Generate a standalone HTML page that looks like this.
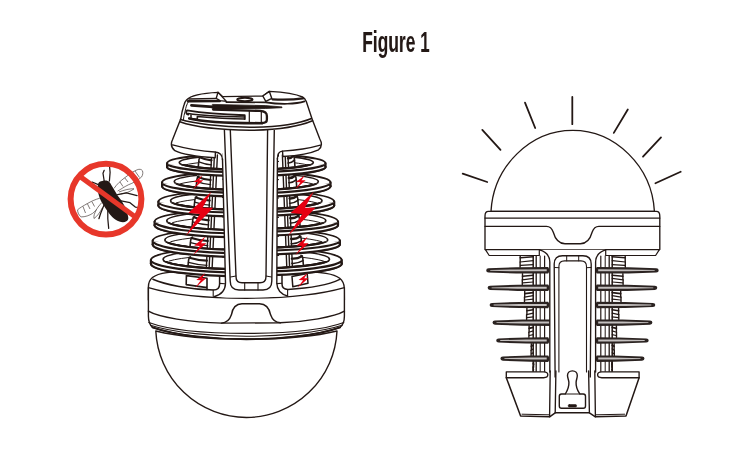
<!DOCTYPE html>
<html lang="en"><head><meta charset="utf-8"><title>Figure 1</title>
<style>
html,body{margin:0;padding:0;background:#fff;}
body{width:750px;height:450px;overflow:hidden;position:relative;}
.title{position:absolute;left:295.9px;top:25.5px;width:200px;text-align:center;font-family:'Liberation Sans',sans-serif;font-weight:bold;font-size:28.7px;color:#231815;white-space:nowrap;transform:scaleX(0.606);opacity:0.999;will-change:transform;transform-origin:50% 50%;}
svg{position:absolute;left:0;top:0;display:block;}
</style></head><body>
<svg width="750" height="450" viewBox="0 0 750 450">
<rect width="750" height="450" fill="#fff"/>

<g fill="#fff" stroke="#231815" stroke-width="1.4" stroke-linejoin="round" stroke-linecap="round">
<path d="M148.4,300 L148.4,287 C148.4,279 153,274.5 167,272.6 C200,268 292,268 326,273.4 C338.5,275.4 343.9,279.6 344.3,288 L344.4,300 Z"/>
<path d="M150.9,263.8 A95.4,12.6 0 0 0 246.3,276.4 L246.3,275.6 A95.4,11.8 0 0 0 341.7,263.8 A95.4,12.8 0 0 0 246.3,251.0 A95.4,12.8 0 0 0 150.9,263.8 Z" stroke-width="1.8"/>
<path d="M150.9,260.0 A95.4,12.6 0 0 0 246.3,272.6 L246.3,271.8 A95.4,11.8 0 0 0 341.7,260.0 A95.4,12.8 0 0 0 246.3,247.2 A95.4,12.8 0 0 0 150.9,260.0 Z" stroke-width="1.8"/>
<path d="M150.9,260.0 v3.8 M341.7,260.0 v3.8" stroke-width="2.2"/>
<path d="M163.1,259.2 A83.2,10.1 0 0 0 246.3,269.3 L246.3,268.6 A83.2,9.4 0 0 0 329.5,259.2 A83.2,10.2 0 0 0 246.3,249.0 A83.2,10.2 0 0 0 163.1,259.2 Z" stroke-width="1.7"/>
<path d="M169.2,261.0 A83.2,10.2 0 0 1 323.4,261.0" fill="none" stroke-width="1.0"/>
<path d="M152.7,244.5 A93.6,12.5 0 0 0 246.3,257.0 L246.3,254.8 A93.6,10.3 0 0 0 339.9,244.5 A93.6,12.6 0 0 0 246.3,231.9 A93.6,12.6 0 0 0 152.7,244.5 Z" stroke-width="1.8"/>
<path d="M152.7,240.7 A93.6,12.5 0 0 0 246.3,253.2 L246.3,251.0 A93.6,10.3 0 0 0 339.9,240.7 A93.6,12.6 0 0 0 246.3,228.1 A93.6,12.6 0 0 0 152.7,240.7 Z" stroke-width="1.8"/>
<path d="M152.7,240.7 v3.8 M339.9,240.7 v3.8" stroke-width="2.2"/>
<path d="M164.9,239.9 A81.4,10.0 0 0 0 246.3,249.9 L246.3,248.1 A81.4,8.2 0 0 0 327.7,239.9 A81.4,10.1 0 0 0 246.3,229.8 A81.4,10.1 0 0 0 164.9,239.9 Z" stroke-width="1.7"/>
<path d="M170.8,241.7 A81.4,10.1 0 0 1 321.8,241.7" fill="none" stroke-width="1.0"/>
<path d="M154.6,225.3 A91.7,12.0 0 0 0 246.3,237.3 L246.3,235.8 A91.7,10.5 0 0 0 338.0,225.3 A91.7,12.3 0 0 0 246.3,213.0 A91.7,12.3 0 0 0 154.6,225.3 Z" stroke-width="1.8"/>
<path d="M154.6,221.5 A91.7,12.0 0 0 0 246.3,233.5 L246.3,232.0 A91.7,10.5 0 0 0 338.0,221.5 A91.7,12.3 0 0 0 246.3,209.2 A91.7,12.3 0 0 0 154.6,221.5 Z" stroke-width="1.8"/>
<path d="M154.6,221.5 v3.8 M338.0,221.5 v3.8" stroke-width="2.2"/>
<path d="M166.8,220.7 A79.5,9.6 0 0 0 246.3,230.3 L246.3,229.1 A79.5,8.4 0 0 0 325.8,220.7 A79.5,9.8 0 0 0 246.3,210.9 A79.5,9.8 0 0 0 166.8,220.7 Z" stroke-width="1.7"/>
<path d="M172.6,222.6 A79.5,9.8 0 0 1 320.0,222.6" fill="none" stroke-width="1.0"/>
<path d="M158.4,205.4 A87.9,11.2 0 0 0 246.3,216.6 L246.3,216.0 A87.9,10.6 0 0 0 334.2,205.4 A87.9,11.7 0 0 0 246.3,193.7 A87.9,11.7 0 0 0 158.4,205.4 Z" stroke-width="1.8"/>
<path d="M158.4,201.6 A87.9,11.2 0 0 0 246.3,212.8 L246.3,212.2 A87.9,10.6 0 0 0 334.2,201.6 A87.9,11.7 0 0 0 246.3,189.9 A87.9,11.7 0 0 0 158.4,201.6 Z" stroke-width="1.8"/>
<path d="M158.4,201.6 v3.8 M334.2,201.6 v3.8" stroke-width="2.2"/>
<path d="M170.6,200.8 A75.7,9.0 0 0 0 246.3,209.8 L246.3,209.3 A75.7,8.5 0 0 0 322.0,200.8 A75.7,9.4 0 0 0 246.3,191.4 A75.7,9.4 0 0 0 170.6,200.8 Z" stroke-width="1.7"/>
<path d="M176.1,202.9 A75.7,9.4 0 0 1 316.5,202.9" fill="none" stroke-width="1.0"/>
<path d="M162.1,186.2 A84.2,10.5 0 0 0 246.3,196.7 L246.3,197.0 A84.2,10.8 0 0 0 330.5,186.2 A84.2,10.8 0 0 0 246.3,175.4 A84.2,10.8 0 0 0 162.1,186.2 Z" stroke-width="1.8"/>
<path d="M162.1,182.4 A84.2,10.5 0 0 0 246.3,192.9 L246.3,193.2 A84.2,10.8 0 0 0 330.5,182.4 A84.2,10.8 0 0 0 246.3,171.6 A84.2,10.8 0 0 0 162.1,182.4 Z" stroke-width="1.8"/>
<path d="M162.1,182.4 v3.8 M330.5,182.4 v3.8" stroke-width="2.2"/>
<path d="M174.3,181.6 A72.0,8.4 0 0 0 246.3,190.0 L246.3,190.2 A72.0,8.6 0 0 0 318.3,181.6 A72.0,8.6 0 0 0 246.3,173.0 A72.0,8.6 0 0 0 174.3,181.6 Z" stroke-width="1.7"/>
<path d="M179.5,184.0 A72.0,8.6 0 0 1 313.1,184.0" fill="none" stroke-width="1.0"/>
<path d="M167.1,167.1 A79.2,9.0 0 0 0 246.3,176.1 L246.3,176.1 A79.2,9.0 0 0 0 325.5,167.1 A79.2,9.6 0 0 0 246.3,157.5 A79.2,9.6 0 0 0 167.1,167.1 Z" stroke-width="1.8"/>
<path d="M167.1,163.3 A79.2,9.0 0 0 0 246.3,172.3 L246.3,172.3 A79.2,9.0 0 0 0 325.5,163.3 A79.2,9.6 0 0 0 246.3,153.7 A79.2,9.6 0 0 0 167.1,163.3 Z" stroke-width="1.8"/>
<path d="M167.1,163.3 v3.8 M325.5,163.3 v3.8" stroke-width="2.2"/>
<path d="M179.3,162.5 A67.0,7.2 0 0 0 246.3,169.7 L246.3,169.7 A67.0,7.2 0 0 0 313.3,162.5 A67.0,7.7 0 0 0 246.3,154.8 A67.0,7.7 0 0 0 179.3,162.5 Z" stroke-width="1.7"/>
<path d="M184.2,165.2 A67.0,7.7 0 0 1 308.4,165.2" fill="none" stroke-width="1.0"/>
<path d="M199.8,152 L185.5,290 L222,290 L222,152 Z" stroke="none"/>
<path d="M293.7,152 L305.5,290 L279,290 L279,152 Z" stroke="none"/>
<g fill="none" stroke-width="1.2">
<path d="M211.6,155 L205.4,288" stroke-width="1.4"/>
<path d="M214.4,155 L208.2,288" stroke-width="1.4"/>
<path d="M217.4,155 L211.2,288" stroke-width="1.4"/>
<path d="M282.4,155 L287.6,288" stroke-width="1.4"/>
<path d="M285.2,155 L290.4,288" stroke-width="1.4"/>
<path d="M288.0,155 L293.2,288" stroke-width="1.4"/>
<path d="M200.8,156.5 Q199.3,157.5 199.0,159.5 L198.2,167.5" stroke-width="1.6"/>
<path d="M199.8,157.3 Q205.4,159.9 211.5,160.3" stroke-width="2.2"/>
<path d="M198.8,161.9 Q205.4,164.5 211.5,164.9" stroke-width="1.3"/>
<path d="M292.5,155.0 Q294.0,156.0 294.3,158.0 L294.9,166.0" stroke-width="1.6"/>
<path d="M293.5,155.8 Q291.0,158.6 288.0,158.2" stroke-width="2.4"/>
<path d="M294.5,160.2 Q291.0,163.4 288.0,163.0" stroke-width="1.6"/>
<path d="M198.8,176.2 Q197.3,177.2 197.0,179.2 L196.0,188.2" stroke-width="1.6"/>
<path d="M197.8,177.0 Q204.0,179.6 210.6,180.0" stroke-width="2.2"/>
<path d="M196.8,181.6 Q204.0,184.2 210.6,184.6" stroke-width="1.3"/>
<path d="M294.2,174.7 Q295.7,175.7 296.0,177.7 L296.7,186.7" stroke-width="1.6"/>
<path d="M295.2,175.5 Q292.2,178.3 288.8,177.9" stroke-width="2.4"/>
<path d="M296.2,179.9 Q292.2,183.1 288.8,182.7" stroke-width="1.6"/>
<path d="M196.7,196.7 Q195.2,197.7 194.9,199.7 L194.0,207.8" stroke-width="1.6"/>
<path d="M195.7,197.5 Q202.4,200.1 209.7,200.5" stroke-width="2.2"/>
<path d="M194.7,202.1 Q202.4,204.7 209.7,205.1" stroke-width="1.3"/>
<path d="M295.9,195.2 Q297.4,196.2 297.7,198.2 L298.4,206.3" stroke-width="1.6"/>
<path d="M296.9,196.0 Q293.5,198.8 289.6,198.4" stroke-width="2.4"/>
<path d="M297.9,200.4 Q293.5,203.6 289.6,203.2" stroke-width="1.6"/>
<path d="M194.6,216.5 Q193.1,217.5 192.8,219.5 L191.9,228.1" stroke-width="1.6"/>
<path d="M193.6,217.3 Q200.9,219.9 208.7,220.3" stroke-width="2.2"/>
<path d="M192.6,221.9 Q200.9,224.5 208.7,224.9" stroke-width="1.3"/>
<path d="M297.6,215.0 Q299.1,216.0 299.4,218.0 L300.1,226.6" stroke-width="1.6"/>
<path d="M298.6,215.8 Q294.7,218.6 290.3,218.2" stroke-width="2.4"/>
<path d="M299.6,220.2 Q294.7,223.4 290.3,223.0" stroke-width="1.6"/>
<path d="M192.5,237.2 Q191.0,238.2 190.7,240.2 L189.9,247.6" stroke-width="1.6"/>
<path d="M191.5,238.0 Q199.4,240.6 207.8,241.0" stroke-width="2.2"/>
<path d="M190.5,242.6 Q199.4,245.2 207.8,245.6" stroke-width="1.3"/>
<path d="M299.4,235.7 Q300.9,236.7 301.2,238.7 L301.7,246.1" stroke-width="1.6"/>
<path d="M300.4,236.5 Q296.0,239.3 291.2,238.9" stroke-width="2.4"/>
<path d="M301.4,240.9 Q296.0,244.1 291.2,243.7" stroke-width="1.6"/>
<path d="M190.4,256.9 Q188.9,257.9 188.6,259.9 L187.9,266.9" stroke-width="1.6"/>
<path d="M189.4,257.7 Q197.9,260.3 206.9,260.7" stroke-width="2.2"/>
<path d="M188.4,262.3 Q197.9,264.9 206.9,265.3" stroke-width="1.3"/>
<path d="M301.0,255.4 Q302.5,256.4 302.8,258.4 L303.4,265.4" stroke-width="1.6"/>
<path d="M302.0,256.2 Q297.2,259.0 291.9,258.6" stroke-width="2.4"/>
<path d="M303.0,260.6 Q297.2,263.8 291.9,263.4" stroke-width="1.6"/>
</g>
<path d="M186,270 L186.2,288.3 L213.5,290 C217,290 219.6,288 219.6,284 L219.6,270 Z" stroke="none"/>
<path d="M152.9,279.2 C165,284.6 190,289.4 213.5,290 C217,290 219.6,288 219.6,284 L219.6,272" fill="none" stroke-width="1.5"/>
<path d="M186.4,275.6 L186.2,284.6 L207,287.6 M186.4,275.6 L207,278.2 L207,289.6" fill="none" stroke-width="1.6"/>
<path d="M282,270 L282,284 C282,287.6 284.5,289.4 288,289.4 L308.4,287.6 L308.4,270 Z" stroke="none"/>
<path d="M282,272 L282,284 C282,287.6 284.5,289.4 288,289.4 C310,288.2 329,284.6 339.8,279.4" fill="none" stroke-width="1.5"/>
<path d="M292,276.4 L307.2,273.6 L308,283.2 L292.8,286.8 Z" stroke-width="1.5"/>
<defs>
<clipPath id="rc0"><rect x="140" y="164.3" width="215" height="30"/></clipPath>
<clipPath id="rc1"><rect x="140" y="183.4" width="215" height="30"/></clipPath>
<clipPath id="rc2"><rect x="140" y="202.6" width="215" height="30"/></clipPath>
<clipPath id="rc3"><rect x="140" y="222.5" width="215" height="30"/></clipPath>
<clipPath id="rc4"><rect x="140" y="241.7" width="215" height="30"/></clipPath>
<clipPath id="rc5"><rect x="140" y="261.0" width="215" height="30"/></clipPath>
</defs>
<g clip-path="url(#rc0)">
<path d="M167.1,167.1 A79.2,9.0 0 0 0 246.3,176.1 L246.3,176.1 A79.2,9.0 0 0 0 325.5,167.1 A79.2,9.6 0 0 0 246.3,157.5 A79.2,9.6 0 0 0 167.1,167.1 Z M179.3,162.5 A67.0,7.2 0 0 0 246.3,169.7 L246.3,169.7 A67.0,7.2 0 0 0 313.3,162.5 A67.0,7.7 0 0 0 246.3,154.8 A67.0,7.7 0 0 0 179.3,162.5 Z" fill-rule="evenodd" stroke-width="2.2"/>
<path d="M167.1,163.3 A79.2,9.0 0 0 0 246.3,172.3 L246.3,172.3 A79.2,9.0 0 0 0 325.5,163.3 A79.2,9.6 0 0 0 246.3,153.7 A79.2,9.6 0 0 0 167.1,163.3 Z M179.3,162.5 A67.0,7.2 0 0 0 246.3,169.7 L246.3,169.7 A67.0,7.2 0 0 0 313.3,162.5 A67.0,7.7 0 0 0 246.3,154.8 A67.0,7.7 0 0 0 179.3,162.5 Z" fill-rule="evenodd" stroke-width="2.2"/>
<path d="M179.3,162.5 A67.0,7.2 0 0 0 246.3,169.7 L246.3,169.7 A67.0,7.2 0 0 0 313.3,162.5 A67.0,7.7 0 0 0 246.3,154.8 A67.0,7.7 0 0 0 179.3,162.5 Z" fill="none" stroke-width="1.7"/>
</g>
<g clip-path="url(#rc1)">
<path d="M162.1,186.2 A84.2,10.5 0 0 0 246.3,196.7 L246.3,197.0 A84.2,10.8 0 0 0 330.5,186.2 A84.2,10.8 0 0 0 246.3,175.4 A84.2,10.8 0 0 0 162.1,186.2 Z M174.3,181.6 A72.0,8.4 0 0 0 246.3,190.0 L246.3,190.2 A72.0,8.6 0 0 0 318.3,181.6 A72.0,8.6 0 0 0 246.3,173.0 A72.0,8.6 0 0 0 174.3,181.6 Z" fill-rule="evenodd" stroke-width="2.2"/>
<path d="M162.1,182.4 A84.2,10.5 0 0 0 246.3,192.9 L246.3,193.2 A84.2,10.8 0 0 0 330.5,182.4 A84.2,10.8 0 0 0 246.3,171.6 A84.2,10.8 0 0 0 162.1,182.4 Z M174.3,181.6 A72.0,8.4 0 0 0 246.3,190.0 L246.3,190.2 A72.0,8.6 0 0 0 318.3,181.6 A72.0,8.6 0 0 0 246.3,173.0 A72.0,8.6 0 0 0 174.3,181.6 Z" fill-rule="evenodd" stroke-width="2.2"/>
<path d="M174.3,181.6 A72.0,8.4 0 0 0 246.3,190.0 L246.3,190.2 A72.0,8.6 0 0 0 318.3,181.6 A72.0,8.6 0 0 0 246.3,173.0 A72.0,8.6 0 0 0 174.3,181.6 Z" fill="none" stroke-width="1.7"/>
</g>
<g clip-path="url(#rc2)">
<path d="M158.4,205.4 A87.9,11.2 0 0 0 246.3,216.6 L246.3,216.0 A87.9,10.6 0 0 0 334.2,205.4 A87.9,11.7 0 0 0 246.3,193.7 A87.9,11.7 0 0 0 158.4,205.4 Z M170.6,200.8 A75.7,9.0 0 0 0 246.3,209.8 L246.3,209.3 A75.7,8.5 0 0 0 322.0,200.8 A75.7,9.4 0 0 0 246.3,191.4 A75.7,9.4 0 0 0 170.6,200.8 Z" fill-rule="evenodd" stroke-width="2.2"/>
<path d="M158.4,201.6 A87.9,11.2 0 0 0 246.3,212.8 L246.3,212.2 A87.9,10.6 0 0 0 334.2,201.6 A87.9,11.7 0 0 0 246.3,189.9 A87.9,11.7 0 0 0 158.4,201.6 Z M170.6,200.8 A75.7,9.0 0 0 0 246.3,209.8 L246.3,209.3 A75.7,8.5 0 0 0 322.0,200.8 A75.7,9.4 0 0 0 246.3,191.4 A75.7,9.4 0 0 0 170.6,200.8 Z" fill-rule="evenodd" stroke-width="2.2"/>
<path d="M170.6,200.8 A75.7,9.0 0 0 0 246.3,209.8 L246.3,209.3 A75.7,8.5 0 0 0 322.0,200.8 A75.7,9.4 0 0 0 246.3,191.4 A75.7,9.4 0 0 0 170.6,200.8 Z" fill="none" stroke-width="1.7"/>
</g>
<g clip-path="url(#rc3)">
<path d="M154.6,225.3 A91.7,12.0 0 0 0 246.3,237.3 L246.3,235.8 A91.7,10.5 0 0 0 338.0,225.3 A91.7,12.3 0 0 0 246.3,213.0 A91.7,12.3 0 0 0 154.6,225.3 Z M166.8,220.7 A79.5,9.6 0 0 0 246.3,230.3 L246.3,229.1 A79.5,8.4 0 0 0 325.8,220.7 A79.5,9.8 0 0 0 246.3,210.9 A79.5,9.8 0 0 0 166.8,220.7 Z" fill-rule="evenodd" stroke-width="2.2"/>
<path d="M154.6,221.5 A91.7,12.0 0 0 0 246.3,233.5 L246.3,232.0 A91.7,10.5 0 0 0 338.0,221.5 A91.7,12.3 0 0 0 246.3,209.2 A91.7,12.3 0 0 0 154.6,221.5 Z M166.8,220.7 A79.5,9.6 0 0 0 246.3,230.3 L246.3,229.1 A79.5,8.4 0 0 0 325.8,220.7 A79.5,9.8 0 0 0 246.3,210.9 A79.5,9.8 0 0 0 166.8,220.7 Z" fill-rule="evenodd" stroke-width="2.2"/>
<path d="M166.8,220.7 A79.5,9.6 0 0 0 246.3,230.3 L246.3,229.1 A79.5,8.4 0 0 0 325.8,220.7 A79.5,9.8 0 0 0 246.3,210.9 A79.5,9.8 0 0 0 166.8,220.7 Z" fill="none" stroke-width="1.7"/>
</g>
<g clip-path="url(#rc4)">
<path d="M152.7,244.5 A93.6,12.5 0 0 0 246.3,257.0 L246.3,254.8 A93.6,10.3 0 0 0 339.9,244.5 A93.6,12.6 0 0 0 246.3,231.9 A93.6,12.6 0 0 0 152.7,244.5 Z M164.9,239.9 A81.4,10.0 0 0 0 246.3,249.9 L246.3,248.1 A81.4,8.2 0 0 0 327.7,239.9 A81.4,10.1 0 0 0 246.3,229.8 A81.4,10.1 0 0 0 164.9,239.9 Z" fill-rule="evenodd" stroke-width="2.2"/>
<path d="M152.7,240.7 A93.6,12.5 0 0 0 246.3,253.2 L246.3,251.0 A93.6,10.3 0 0 0 339.9,240.7 A93.6,12.6 0 0 0 246.3,228.1 A93.6,12.6 0 0 0 152.7,240.7 Z M164.9,239.9 A81.4,10.0 0 0 0 246.3,249.9 L246.3,248.1 A81.4,8.2 0 0 0 327.7,239.9 A81.4,10.1 0 0 0 246.3,229.8 A81.4,10.1 0 0 0 164.9,239.9 Z" fill-rule="evenodd" stroke-width="2.2"/>
<path d="M164.9,239.9 A81.4,10.0 0 0 0 246.3,249.9 L246.3,248.1 A81.4,8.2 0 0 0 327.7,239.9 A81.4,10.1 0 0 0 246.3,229.8 A81.4,10.1 0 0 0 164.9,239.9 Z" fill="none" stroke-width="1.7"/>
</g>
<g clip-path="url(#rc5)">
<path d="M150.9,263.8 A95.4,12.6 0 0 0 246.3,276.4 L246.3,275.6 A95.4,11.8 0 0 0 341.7,263.8 A95.4,12.8 0 0 0 246.3,251.0 A95.4,12.8 0 0 0 150.9,263.8 Z M163.1,259.2 A83.2,10.1 0 0 0 246.3,269.3 L246.3,268.6 A83.2,9.4 0 0 0 329.5,259.2 A83.2,10.2 0 0 0 246.3,249.0 A83.2,10.2 0 0 0 163.1,259.2 Z" fill-rule="evenodd" stroke-width="2.2"/>
<path d="M150.9,260.0 A95.4,12.6 0 0 0 246.3,272.6 L246.3,271.8 A95.4,11.8 0 0 0 341.7,260.0 A95.4,12.8 0 0 0 246.3,247.2 A95.4,12.8 0 0 0 150.9,260.0 Z M163.1,259.2 A83.2,10.1 0 0 0 246.3,269.3 L246.3,268.6 A83.2,9.4 0 0 0 329.5,259.2 A83.2,10.2 0 0 0 246.3,249.0 A83.2,10.2 0 0 0 163.1,259.2 Z" fill-rule="evenodd" stroke-width="2.2"/>
<path d="M163.1,259.2 A83.2,10.1 0 0 0 246.3,269.3 L246.3,268.6 A83.2,9.4 0 0 0 329.5,259.2 A83.2,10.2 0 0 0 246.3,249.0 A83.2,10.2 0 0 0 163.1,259.2 Z" fill="none" stroke-width="1.7"/>
</g>
<path d="M148.4,287.6 C170,294 205,298.2 246.3,298.2 C288,298.2 322,294 344.4,287.6 L344.4,316 C344.4,321 343,325 340.1,327.3 C317.6,335.5 277.6,339.2 246.3,339.2 C215,339.2 175,335.5 152.5,327.3 C149.8,325 148.4,321 148.4,316 Z"/>
<path d="M155.8,331 A90.7,90.7 0 0 0 337,331 C310,337.5 277.6,339.2 246.3,339.2 C215,339.2 182,337.5 155.8,331 Z"/>
<g fill="none">
<path d="M148.4,311.2 C158,317 190,322.6 222,323.1 L280,322.8 C305,322 334.8,317 344.4,311.2" />
<path d="M148.8,322.5 C172,331 215,333.4 246.3,333.4 C277.6,333.4 320.6,331 343.8,322.5" stroke-width="1.1"/>
<path d="M150.5,325.3 C173,332.8 215,336.3 246.3,336.3 C277.6,336.3 319.6,332.8 342.1,325.3" stroke-width="1.1"/>
<path d="M152.5,327.3 C175,335.5 215,339.2 246.3,339.2 C277.6,339.2 317.6,335.5 340.1,327.3" stroke-width="1.9"/>
<path d="M221.5,323.1 C228,322.7 230,319 231.4,314.8 C232.5,308 235.5,303.7 242,303.7 L259.5,303.7 C266,303.7 269.2,308 270.6,314.8 C272,319 274,322.4 280.5,322.8"/>
</g>
<path d="M222.6,158 L225.5,283 C225.4,290.5 221.5,294.8 214,296.7 C230,298 262,298 287.5,296 C281.2,294.2 277,290.5 276.8,283 L277.4,158 L277.4,130 L222.6,130 Z" stroke="none"/>
<path d="M222.5,159 L225.5,283 C225.4,290.5 221.5,294.8 214,296.7 M287.5,296 C281.2,294.2 277,290.5 276.8,283 L277.4,158" fill="none"/>
<g fill="none">
<path d="M224.4,130 L230.2,281 C230.2,287 233,290 239,290 L263,290 C269,290 271.8,287 271.8,281 L274.3,130"/>
<path d="M230.3,130 L236,276.5 C236,280.7 238,282.7 242,282.7 L260,282.7 C264,282.7 266,280.7 266,276.5 L267.6,130"/>
<path d="M230.5,277 L236,276 M244.7,283 L244.7,290 M258,283 L258,290 M266,276 L271.5,277" stroke-width="1.1"/>
<path d="M213.2,290 L213.2,296.3 M219.6,283.4 L224.8,283.8 M287.6,289.6 L287.6,296 M282,283.2 L276.9,283.6" stroke-width="1.1"/>
</g>
<path d="M186.5,100 C190.5,95.8 201,93.2 218,92.4 L222.5,96.6 L262.8,96 L269.4,91.4 C285,92.2 297,94.5 302.5,97 C304.5,98 305.5,99.5 306.3,101.5 L312,118.8 L319.8,139 C322.4,143.5 321.8,147 318.5,149.8 C312,152.8 297,155.6 282.9,156.5 L282.5,151.1 C279.5,151.3 277.4,153.5 277.4,159 L277.4,130 L222.5,130 L222.5,160 C222.5,154.8 219.5,152.3 214.9,152 L215.4,152.1 L215.2,157.8 C197,156.7 181,153.8 174.9,150.7 C171.4,147.8 170.6,143.5 172.6,139.5 L180.8,118.8 C181.5,114 182.6,109 184,105 C184.6,103 185.3,101.2 186.5,100 Z" stroke="none"/>
<path d="M215.4,152.1 L215.2,157.8 C197,156.7 181,153.8 174.9,150.7 C171.4,147.8 170.6,143.5 172.6,139.5 L180.8,118.8 C181.5,114 182.6,109 184,105 C184.6,103 185.3,101.2 186.5,100 C190.5,95.8 201,93.2 218,92.4 L222.5,96.6 L262.8,96 L269.4,91.4 C285,92.2 297,94.5 302.5,97 C304.5,98 305.5,99.5 306.3,101.5 L312,118.8 L319.8,139 C322.4,143.5 321.8,147 318.5,149.8 C312,152.8 297,155.6 282.9,156.5 L282.5,151.1" fill="none"/>
<g fill="none">
<path d="M172.6,144.8 C185,148.2 200,151.2 214.9,152 C219.5,152.3 222.5,154.8 222.5,160" stroke-width="1.3"/>
<path d="M320.4,145.2 C308,148.8 296,150.4 282.5,151.1 C279.5,151.3 277.4,153.5 277.4,159" stroke-width="1.3"/>
<path d="M180.6,119.6 C193,123.4 220,127 250,127.3 C275,127 298,124 311.5,118.4" stroke-width="1.6"/>
<path d="M179.8,121.8 C193,126.4 220,130 250,130.3 C275,130 298,127 312.5,120.8" stroke-width="1.5"/>
<path d="M188.5,101.5 C186.5,104.5 185.7,108 185.2,111 C184.3,114 183.6,117 183.4,119.6" stroke-width="1"/>
</g>
<path d="M218,92.2 L226.4,101.4 L220,100.6 L216.2,98.4 Z" />
<path d="M269.4,91.4 L262.8,96 L265.8,101.4 L271.8,98.4 Z" />
<g fill="none">
<path d="M189,99 L216.2,98.4" stroke-width="1.5"/>
<path d="M188,101.3 L219.8,101.1" stroke-width="2.4"/>
<path d="M272.5,99.4 C285,99.9 296,99.4 303,98.4" stroke-width="2.3"/>
<path d="M226.4,102.2 L265.8,102.3 C280,104.6 296,104.2 304.5,101.4" stroke-width="1.7"/>
<ellipse cx="244.9" cy="99.5" rx="7.7" ry="1.7" stroke-width="1.9"/>
</g>
<path d="M212.7,104.4 L265.3,105.6 L282,106.9 L282,107.7 L265.3,108.5 L212.7,109.4 Z" fill="#231815" stroke-width="0.8"/>
<path d="M191.5,105.4 L213,106.9" fill="none" stroke-width="2.9"/>
<path d="M213.3,109.6 L260,110.9 C265,111.2 266.9,113 266.9,116 L266.9,119.5 C266.9,122.3 265,123 262,123" fill="none" stroke-width="2.3"/>
<path d="M249.3,110.8 L249.3,123 M261.3,111.2 L261.3,123" fill="none" stroke-width="1.2"/>
<path d="M187.2,110.4 C185.6,111.3 185.8,113.6 188.2,114.6 M187.2,110.4 C200,112.6 225,114.6 244.7,115.2 L244.7,119" fill="none" stroke-width="1.9"/>
<path d="M188.2,113.4 C200,115.2 225,116.5 244.7,116.9" fill="none" stroke-width="1.5"/>
<path d="M191,115 L191,118.6 L197.3,119.6 L197.3,116.6 C215,118.1 230,118.9 244.7,119.1" fill="none" stroke-width="1.5"/>
<path d="M189.3,118.4 C200,121 225,123.2 262,123.2" fill="none" stroke-width="2.6"/>
</g>
<polygon points="211.4,191.7 188.3,213.0 199.9,213.9 185.7,236.1 213.2,207.7 202.6,207.7" fill="#e60012"/>
<polygon points="202.6,175.2 193.7,182.0 198.2,182.3 192.7,189.4 203.3,180.3 199.2,180.3" fill="#e60012"/>
<polygon points="205.4,236.6 194.2,245.5 199.8,245.9 193.0,255.2 206.3,243.3 201.1,243.3" fill="#e60012"/>
<polygon points="205.4,273.0 196.3,280.0 200.8,280.3 195.2,287.7 206.1,278.3 201.9,278.3" fill="#e60012"/>
<polygon points="313.7,191.7 290.6,213.0 302.2,213.9 288.0,236.1 315.5,207.7 304.9,207.7" fill="#e60012"/>
<polygon points="304.9,175.2 296.0,182.0 300.5,182.3 295.0,189.4 305.6,180.3 301.5,180.3" fill="#e60012"/>
<polygon points="307.7,236.6 296.5,245.5 302.1,245.9 295.3,255.2 308.6,243.3 303.4,243.3" fill="#e60012"/>
<polygon points="307.7,273.0 298.6,280.0 303.1,280.3 297.5,287.7 308.4,278.3 304.2,278.3" fill="#e60012"/>
<g>
<g fill="none" stroke="#4a403d" stroke-width="0.7" stroke-linejoin="round">
<path d="M114,188.4 C117,184 121,180.5 124.7,177.8 C129,174.5 133,171.5 137.1,169.8 C139.5,168.8 141.5,169.3 142.4,170.7 C143.2,172.5 142.8,175 141.6,176.9 C138,180.5 133,183 128.2,184.9 C124,187 120.5,189.5 117.6,191.1"/>
<path d="M124.7,177.8 L128,182 M130,174.3 L134,180.5 M135,171 L139.5,177.5 M120,182 L123,186.5 M119,192 C124,190 130,188.5 134,188.8 C131,191.5 125,193.5 120.5,194"/>
<path d="M99.8,198.2 C95,199.5 91,201.5 87.3,203.6 C83,206 79.5,208 77.6,209.8 C77.5,212.5 79,215.5 81.1,216.9 C85,217 89.5,215.5 92.7,213.3 C95,211.5 96.8,209.3 98,207.1 C99.3,205.5 100.6,204 101.6,202.7"/>
<path d="M87.3,203.6 L90,209 M83,206.5 L85.5,213 M92,201.8 L94.5,206.5 M96.5,209.5 C94.5,213 93.5,216 94,218.5 C97,216.5 100,212.5 102.5,207.5"/>
</g>
<path d="M102.4,181 C100.5,181 98.6,182.3 98,184 C97.3,187.5 97.8,192 98.9,195.6 C100,199.5 102,203.2 104.2,206.2 C106.5,210 109.2,213.8 112.2,216.9 C114.5,219.2 116.8,220.7 119.3,221.5 C121.8,222.4 124.6,222.4 126.4,221.3 C128,220.2 128.6,218.6 128.2,216.9 C127.6,213.4 126.4,209.7 124.7,206.2 C122.7,202.4 120.3,198.9 117.6,195.6 C115.5,192 113.5,188.3 111.3,184.9 C110.3,183 109.3,181.6 107.8,181 C106,180.4 104,180.5 102.4,181 Z" fill="#231815"/>
<g fill="none" stroke="#231815" stroke-width="1.25" stroke-linecap="round" stroke-linejoin="round">
<path d="M104.2,181 L103,173.3 L104.2,170.3 M109.4,181 L110.1,172.4 L109.6,167.1"/>
<path d="M98.9,184.9 L92.7,182.2 L89.1,183.1"/>
<path d="M117.6,194.7 L126.4,192.9 L137.1,195.6"/>
<path d="M121.1,200.9 L130,202.7 L135.3,207.1 L139,207.5"/>
<path d="M104.2,204.4 L100.7,213.3 L98.9,218.7"/>
<path d="M107.8,208 L107.8,218.7 L108.7,228.4"/>
</g>
<circle cx="106" cy="199.1" r="35.4" fill="none" stroke="#e7372a" stroke-width="6"/>
<path d="M79.9,176.4 L137.1,218.3" stroke="#e7372a" stroke-width="5.1" fill="none"/>
</g>
<g fill="#fff" stroke="#231815" stroke-width="1.35" stroke-linejoin="round" stroke-linecap="round">
<defs><linearGradient id="dg" x1="0" y1="0" x2="0" y2="1"><stop offset="0" stop-color="#5b5554"/><stop offset="0.45" stop-color="#d0cdcc"/><stop offset="1" stop-color="#6a6463"/></linearGradient></defs>
<path d="M462.7,173.7 L487.2,182" stroke-width="1.8"/>
<path d="M482.3,129.9 L500.5,149.9" stroke-width="1.8"/>
<path d="M525,102.7 L535.2,128" stroke-width="1.8"/>
<path d="M572.3,97 L572.3,124.2" stroke-width="1.8"/>
<path d="M627.8,109.5 L613.8,132.9" stroke-width="1.8"/>
<path d="M661,137.4 L643,156.7" stroke-width="1.8"/>
<path d="M680.7,171.8 L655.4,183.2" stroke-width="1.8"/>
<path d="M491,211.3 C493.5,166 530.5,130.4 572.7,130.4 C614.9,130.4 651.9,166 654.4,211.3 Z"/>
<path d="M518.6,255 L533.2,372 L545.0,372 L545.0,255 Z" stroke="none"/>
<g fill="none" stroke-width="1.2">
<path d="M533.2,256 L533.2,372" stroke-width="1.5"/>
<path d="M536.2,256 L536.2,372" stroke-width="1.3"/>
<path d="M540.2,256 L540.2,372" stroke-width="1.0"/>
<path d="M544.6,256 L544.6,372" stroke-width="1.2"/>
<path d="M520.2,255.2 L520.2,261.8 L520.1,261.8 L520.1,267.2" stroke-width="1.4"/>
<path d="M520.2,257.8 L533.2,256.8" stroke-width="1.6"/>
<path d="M520.1,262.0 L533.2,260.6" stroke-width="1.2"/>
<path d="M520.6,265.4 L533.2,264.6" stroke-width="1.2"/>
<path d="M522.5,273.6 L522.5,279.6 L522.3,279.6 L522.3,284.6" stroke-width="1.4"/>
<path d="M522.5,276.2 L533.2,275.2" stroke-width="1.6"/>
<path d="M522.3,279.8 L533.2,278.4" stroke-width="1.2"/>
<path d="M522.8,282.8 L533.2,282.0" stroke-width="1.2"/>
<path d="M524.7,291.0 L524.7,296.9 L524.5,296.9 L524.5,301.8" stroke-width="1.4"/>
<path d="M524.7,293.6 L533.2,292.6" stroke-width="1.6"/>
<path d="M524.5,297.1 L533.2,295.7" stroke-width="1.2"/>
<path d="M525.0,300.0 L533.2,299.2" stroke-width="1.2"/>
<path d="M526.9,308.2 L526.9,314.4 L526.6,314.4 L526.6,319.4" stroke-width="1.4"/>
<path d="M526.9,310.8 L533.2,309.8" stroke-width="1.6"/>
<path d="M526.6,314.6 L533.2,313.2" stroke-width="1.2"/>
<path d="M527.1,317.6 L533.2,316.8" stroke-width="1.2"/>
<path d="M529.1,325.8 L529.1,332.1 L528.9,332.1 L528.9,337.3" stroke-width="1.4"/>
<path d="M529.1,328.4 L533.2,327.4" stroke-width="1.6"/>
<path d="M528.9,332.3 L533.2,330.9" stroke-width="1.2"/>
<path d="M529.4,335.5 L533.2,334.7" stroke-width="1.2"/>
<path d="M531.3,343.7 L531.3,350.1 L531.1,350.1 L531.1,355.4" stroke-width="1.4"/>
<path d="M531.3,346.3 L533.2,345.3" stroke-width="1.6"/>
<path d="M531.1,350.3 L533.2,348.9" stroke-width="1.2"/>
<path d="M531.6,353.6 L533.2,352.8" stroke-width="1.2"/>
<path d="M533.6,361.8 L533.6,367.2 L533.2,367.2 L533.2,371.6" stroke-width="1.4"/>
<path d="M533.6,364.4 L533.2,363.4" stroke-width="1.6"/>
<path d="M533.2,367.4 L533.2,366.0" stroke-width="1.2"/>
<path d="M533.7,369.8 L533.2,369.0" stroke-width="1.2"/>
</g>
<path d="M626.8,255 L612.2,372 L600.4,372 L600.4,255 Z" stroke="none"/>
<g fill="none" stroke-width="1.2">
<path d="M612.2,256 L612.2,372" stroke-width="1.5"/>
<path d="M609.2,256 L609.2,372" stroke-width="1.3"/>
<path d="M605.2,256 L605.2,372" stroke-width="1.0"/>
<path d="M600.8,256 L600.8,372" stroke-width="1.2"/>
<path d="M625.2,255.2 L625.2,261.8 L625.3,261.8 L625.3,267.2" stroke-width="1.4"/>
<path d="M625.2,257.8 L612.2,256.8" stroke-width="1.6"/>
<path d="M625.3,262.0 L612.2,260.6" stroke-width="1.2"/>
<path d="M624.8,265.4 L612.2,264.6" stroke-width="1.2"/>
<path d="M622.9,273.6 L622.9,279.6 L623.1,279.6 L623.1,284.6" stroke-width="1.4"/>
<path d="M622.9,276.2 L612.2,275.2" stroke-width="1.6"/>
<path d="M623.1,279.8 L612.2,278.4" stroke-width="1.2"/>
<path d="M622.6,282.8 L612.2,282.0" stroke-width="1.2"/>
<path d="M620.7,291.0 L620.7,296.9 L621.0,296.9 L621.0,301.8" stroke-width="1.4"/>
<path d="M620.7,293.6 L612.2,292.6" stroke-width="1.6"/>
<path d="M621.0,297.1 L612.2,295.7" stroke-width="1.2"/>
<path d="M620.5,300.0 L612.2,299.2" stroke-width="1.2"/>
<path d="M618.6,308.2 L618.6,314.4 L618.8,314.4 L618.8,319.4" stroke-width="1.4"/>
<path d="M618.6,310.8 L612.2,309.8" stroke-width="1.6"/>
<path d="M618.8,314.6 L612.2,313.2" stroke-width="1.2"/>
<path d="M618.3,317.6 L612.2,316.8" stroke-width="1.2"/>
<path d="M616.4,325.8 L616.4,332.1 L616.5,332.1 L616.5,337.3" stroke-width="1.4"/>
<path d="M616.4,328.4 L612.2,327.4" stroke-width="1.6"/>
<path d="M616.5,332.3 L612.2,330.9" stroke-width="1.2"/>
<path d="M616.0,335.5 L612.2,334.7" stroke-width="1.2"/>
<path d="M614.1,343.7 L614.1,350.1 L614.3,350.1 L614.3,355.4" stroke-width="1.4"/>
<path d="M614.1,346.3 L612.2,345.3" stroke-width="1.6"/>
<path d="M614.3,350.3 L612.2,348.9" stroke-width="1.2"/>
<path d="M613.8,353.6 L612.2,352.8" stroke-width="1.2"/>
<path d="M611.9,361.8 L611.9,367.2 L612.2,367.2 L612.2,371.6" stroke-width="1.4"/>
<path d="M611.9,364.4 L612.2,363.4" stroke-width="1.6"/>
<path d="M612.2,367.4 L612.2,366.0" stroke-width="1.2"/>
<path d="M611.7,369.8 L612.2,369.0" stroke-width="1.2"/>
</g>
<path d="M548.2,267.1 L516.2,267.2 L488.6,268.3 Q486.2,268.3 486.2,270.4 Q486.2,272.5 488.6,272.5 L516.2,273.5 L548.2,273.6 Q550.4,270.4 548.2,267.1 Z" fill="#2b2321" stroke="none"/>
<polygon points="490.2,269.9 516.2,269.4 546.7,269.3 546.7,271.3 516.2,271.3 490.2,270.8" fill="#c4c0bf" stroke="none"/>
<path d="M596.7,267.1 L628.7,267.2 L656.3,268.3 Q658.7,268.3 658.7,270.4 Q658.7,272.5 656.3,272.5 L628.7,273.5 L596.7,273.6 Q594.5,270.4 596.7,267.1 Z" fill="#2b2321" stroke="none"/>
<polygon points="654.7,269.9 628.7,269.4 598.2,269.3 598.2,271.3 628.7,271.3 654.7,270.8" fill="#c4c0bf" stroke="none"/>
<path d="M548.2,284.6 L517.6,284.7 L490.0,285.7 Q487.6,285.7 487.6,287.8 Q487.6,289.9 490.0,289.9 L517.6,290.9 L548.2,291.1 Q550.4,287.8 548.2,284.6 Z" fill="#2b2321" stroke="none"/>
<polygon points="491.6,287.4 517.6,286.8 546.7,286.8 546.7,288.8 517.6,288.7 491.6,288.2" fill="#c4c0bf" stroke="none"/>
<path d="M596.7,284.6 L627.3,284.7 L654.9,285.7 Q657.3,285.7 657.3,287.8 Q657.3,289.9 654.9,289.9 L627.3,290.9 L596.7,291.1 Q594.5,287.8 596.7,284.6 Z" fill="#2b2321" stroke="none"/>
<polygon points="653.3,287.4 627.3,286.8 598.2,286.8 598.2,288.8 627.3,288.7 653.3,288.2" fill="#c4c0bf" stroke="none"/>
<path d="M548.2,301.8 L519.6,301.9 L492.0,302.9 Q489.6,302.9 489.6,305.0 Q489.6,307.1 492.0,307.1 L519.6,308.1 L548.2,308.2 Q550.4,305.0 548.2,301.8 Z" fill="#2b2321" stroke="none"/>
<polygon points="493.6,304.6 519.6,304.0 546.7,303.9 546.7,305.9 519.6,305.9 493.6,305.4" fill="#c4c0bf" stroke="none"/>
<path d="M596.7,301.8 L625.3,301.9 L652.9,302.9 Q655.3,302.9 655.3,305.0 Q655.3,307.1 652.9,307.1 L625.3,308.1 L596.7,308.2 Q594.5,305.0 596.7,301.8 Z" fill="#2b2321" stroke="none"/>
<polygon points="651.3,304.6 625.3,304.0 598.2,303.9 598.2,305.9 625.3,305.9 651.3,305.4" fill="#c4c0bf" stroke="none"/>
<path d="M554.2,319.4 L522.5,319.5 L494.9,320.5 Q492.5,320.5 492.5,322.6 Q492.5,324.7 494.9,324.7 L522.5,325.8 L554.2,325.9 Q556.4,322.6 554.2,319.4 Z" fill="#2b2321" stroke="none"/>
<polygon points="496.5,322.2 522.5,321.6 552.7,321.6 552.7,323.6 522.5,323.5 496.5,323.0" fill="#c4c0bf" stroke="none"/>
<path d="M596.7,319.4 L622.4,319.5 L650.0,320.5 Q652.4,320.5 652.4,322.6 Q652.4,324.7 650.0,324.7 L622.4,325.8 L596.7,325.9 Q594.5,322.6 596.7,319.4 Z" fill="#2b2321" stroke="none"/>
<polygon points="648.4,322.2 622.4,321.6 598.2,321.6 598.2,323.6 622.4,323.5 648.4,323.0" fill="#c4c0bf" stroke="none"/>
<path d="M548.2,337.2 L526.2,337.4 L498.6,338.4 Q496.2,338.4 496.2,340.5 Q496.2,342.6 498.6,342.6 L526.2,343.6 L548.2,343.8 Q550.4,340.5 548.2,337.2 Z" fill="#2b2321" stroke="none"/>
<polygon points="500.2,340.1 526.2,339.5 546.7,339.4 546.7,341.4 526.2,341.4 500.2,340.9" fill="#c4c0bf" stroke="none"/>
<path d="M596.7,337.2 L618.7,337.4 L646.3,338.4 Q648.7,338.4 648.7,340.5 Q648.7,342.6 646.3,342.6 L618.7,343.6 L596.7,343.8 Q594.5,340.5 596.7,337.2 Z" fill="#2b2321" stroke="none"/>
<polygon points="644.7,340.1 618.7,339.5 598.2,339.4 598.2,341.4 618.7,341.4 644.7,340.9" fill="#c4c0bf" stroke="none"/>
<path d="M548.2,355.4 L530.4,355.5 L502.8,356.5 Q500.4,356.5 500.4,358.6 Q500.4,360.7 502.8,360.7 L530.4,361.8 L548.2,361.9 Q550.4,358.6 548.2,355.4 Z" fill="#2b2321" stroke="none"/>
<polygon points="504.4,358.2 530.4,357.6 546.7,357.6 546.7,359.6 530.4,359.5 504.4,359.0" fill="#c4c0bf" stroke="none"/>
<path d="M596.7,355.4 L614.5,355.5 L642.1,356.5 Q644.5,356.5 644.5,358.6 Q644.5,360.7 642.1,360.7 L614.5,361.8 L596.7,361.9 Q594.5,358.6 596.7,355.4 Z" fill="#2b2321" stroke="none"/>
<polygon points="640.5,358.2 614.5,357.6 598.2,357.6 598.2,359.6 614.5,359.5 640.5,359.0" fill="#c4c0bf" stroke="none"/>
<path d="M488.4,211.3 L656.4,211.3 C658.9,211.3 659.8,213 659.8,216 L659.8,249.6 L485,249.6 L485,216 C485,213 485.9,211.3 488.4,211.3 Z"/>
<path d="M485.4,249.6 L489.2,255.5 L539.3,255.5 L539.3,249.6 Z" stroke-width="1.2"/>
<path d="M659.4,249.6 L655.6,255.5 L605.7,255.5 L605.7,249.6 Z" stroke-width="1.2"/>
<path d="M539.8,249.8 C545.5,251.5 549.6,255.5 549.8,262 L549.8,372 L595.6,372 L595.6,262 C595.8,255.5 599.9,251.5 605.6,249.8 Z" stroke="none"/>
<g fill="none">
<path d="M539.8,249.8 C545.5,251.5 549.6,255.5 549.8,262 L549.8,372 M605.6,249.8 C599.9,251.5 595.8,255.5 595.6,262 L595.6,372"/>
<path d="M485,218.1 L659.8,218.1"/>
<path d="M485,226.3 L546.5,226.3 C550.5,226.3 552,228.5 553.2,232 C555.3,239.5 558.5,243.7 565,243.7 L580.4,243.7 C586.9,243.7 590.1,239.5 592.2,232 C593.4,228.5 594.9,226.3 598.9,226.3 L659.8,226.3"/>
<path d="M555.4,411.5 L554.2,264 C554.2,258.5 557.3,255.7 562.5,255.7 L582.9,255.7 C588.1,255.7 591.2,258.5 591.2,264 L590,411.5"/>
<path d="M558.9,372 L558.9,266.5 C558.9,262.8 560.9,260.9 564.5,260.9 L580.9,260.9 C584.5,260.9 586.5,262.8 586.5,266.5 L586.5,372" stroke-width="1.1"/>
<path d="M554.4,267.5 L558.9,267.7 M591,267.5 L586.5,267.7 M566.7,255.8 L566.7,260.9 M578.7,255.8 L578.7,260.9" stroke-width="1"/>
</g>
<path d="M506.3,377.6 L520.6,416 L549.6,416.8 L555.2,412.8 L589.4,412.8 L595.4,416.8 L626,416 L639.1,377.6 Z" stroke="none"/>
<path d="M506.3,371.8 L543.6,371.8 C546.6,371.8 547.8,373 547.8,374.8 C547.8,376.6 546.6,377.7 543.6,377.7 L506.3,377.7 Z"/>
<path d="M639.1,371.8 L601.8,371.8 C598.8,371.8 597.6,373 597.6,374.8 C597.6,376.6 598.8,377.7 601.8,377.7 L639.1,377.7 Z"/>
<g fill="none">
<path d="M506.3,377.7 L520.6,416 L549.6,416.8 L555.2,412.8 L589.4,412.8 L595.4,416.8 L626,416 L639.1,377.7" stroke-width="1.5"/>
<path d="M550.2,371 L549.6,416.8 M594.8,371 L595.4,416.8"/>
<path d="M555.9,371 L555.2,412.8 M588.6,371 L589.4,412.8"/>
<path d="M522,414.2 L549.3,414.8 M596,414.8 L624.6,414.2" stroke-width="1"/>
<path d="M572.4,370.9 C575.6,370.9 577.3,373.2 577.3,375.6 C577.3,378 576.3,379.6 576.1,382.2 C575.9,386 577.2,390 579.6,393.6 L579.8,394 L583.3,394 C584.8,394 585.5,394.8 585.5,396.2 L585.5,406 C585.5,407.5 584.7,408.3 583.3,408.3 L561.5,408.3 C560,408.3 559.3,407.5 559.3,406 L559.3,396.2 C559.3,394.8 560,394 561.5,394 L565.3,394 C567.7,390 569.1,386 568.9,382.2 C568.7,379.6 567.5,378 567.5,375.6 C567.5,373.2 569.2,370.9 572.4,370.9 Z" fill="#fff" stroke-width="1.4"/>
<path d="M565.3,394 L579.8,394" stroke-width="1"/>
<rect x="568.2" y="404.6" width="8.4" height="2.4" rx="1.1" fill="#231815" stroke-width="0.6"/>
</g>
</g>
</svg>
<div class="title">Figure 1</div>
</body></html>
